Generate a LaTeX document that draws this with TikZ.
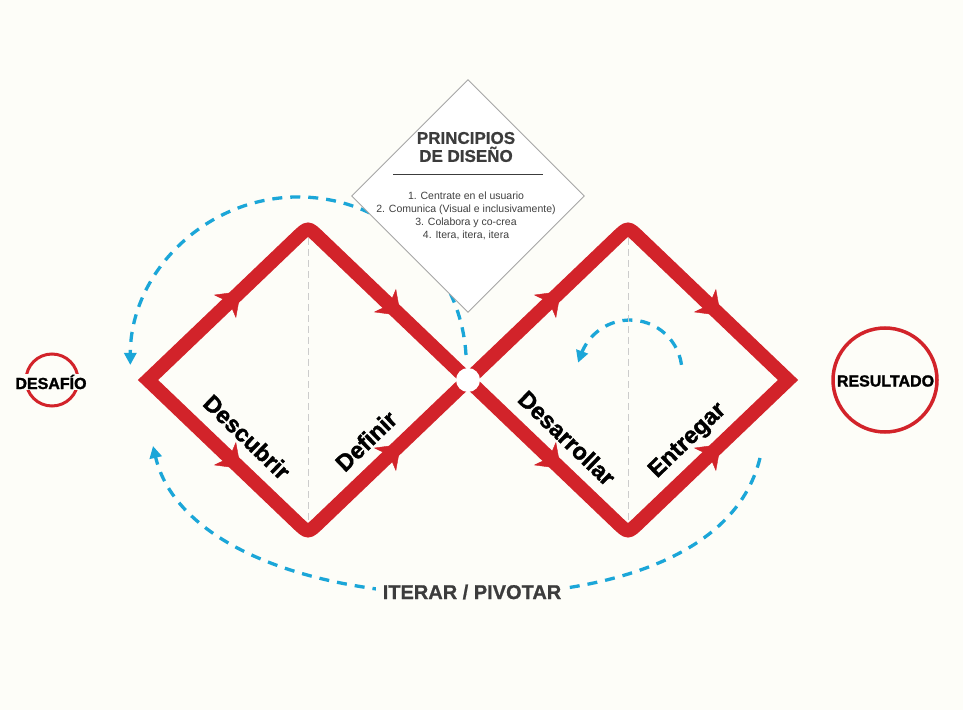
\documentclass[tikz,border=0pt]{standalone}
\usepackage{fontspec}
\setmainfont{Liberation Sans}
\newfontfamily\heavyfont[BoldFeatures={FakeBold=1.6}]{Liberation Sans}
\newfontfamily\semifont[BoldFeatures={FakeBold=0.8}]{Liberation Sans}
\usetikzlibrary{arrows.meta,calc,decorations.markings,shapes.geometric}
\definecolor{dtred}{RGB}{210,35,42}
\definecolor{dtblue}{RGB}{27,166,216}
\definecolor{dtgray}{RGB}{60,60,60}
\definecolor{dtbg}{RGB}{253,253,248}
\tikzset{
  redpath/.style={draw=dtred, line width=14pt, line join=miter},
  midarrow/.style={color=dtred, decoration={markings,
      mark=at position #1 with {\arrow{Stealth[length=22pt,width=32pt,inset=6pt]}}},
    postaction={decorate}},
  loopline/.style={draw=dtblue, line width=3.3pt, dash pattern=on 10pt off 8pt,
    -{Triangle[length=12pt,width=12pt]}},
  axisline/.style={draw=black!20, line width=0.8pt, dash pattern=on 7pt off 4pt},
  phase/.style={font=\heavyfont\bfseries\fontsize{23.5}{23.5}\selectfont, text=black, inner sep=0pt},
  endlabel/.style={font=\heavyfont\bfseries\fontsize{16}{16}\selectfont, text=black, fill=dtbg, inner sep=1pt},
  ring/.style={circle, draw=dtred, inner sep=0pt},
}
\begin{document}
\begin{tikzpicture}[x=1pt,y=1pt]
  \fill[dtbg] (0,0) rectangle (963,710);
  \useasboundingbox (0,0) rectangle (963,710);
  % diamond corners
  \coordinate (L1) at (148,330);
  \coordinate (T1) at (308,483);
  \coordinate (B1) at (308,177);
  \coordinate (R1) at (468,330);
  \coordinate (L2) at (468,330);
  \coordinate (T2) at (628,483);
  \coordinate (B2) at (628,177);
  \coordinate (R2) at (788,330);
  % iteration loops
  \draw[loopline] (466,355) arc[start angle=3.4, end angle=180, radius=168];
  \draw[loopline] (681.5,345.2) arc[start angle=8, end angle=160, radius=52] -- ++(250:9);
  \draw[loopline] (760,252) .. controls (735,150) and (600,115) .. (470,115)
    .. controls (300,115) and (175,170) .. (153,264);
  \node[fill=dtbg, text=dtgray, font=\semifont\bfseries\fontsize{20}{20}\selectfont,
    inner xsep=7pt] (iterar) at (472,118) {ITERAR / PIVOTAR};
  % axes
  \draw[axisline] (T1) -- (B1);
  \draw[axisline] (T2) -- (B2);
  % double diamond
  \foreach \n in {1,2}{
    \draw[redpath] (L\n) -- ($(T\n)!15pt!(L\n)$) .. controls (T\n) .. ($(T\n)!15pt!(R\n)$)
      -- (R\n) -- ($(B\n)!15pt!(R\n)$) .. controls (B\n) .. ($(B\n)!15pt!(L\n)$) -- cycle;
  }
  \foreach \a/\b in {L1/T1,T1/R1,L1/B1,B1/R1,L2/T2,T2/R2,L2/B2,B2/R2}
    \path[midarrow=0.58] (\a) -- (\b);
  \fill[white] (R1) circle (12);
  % principles
  \node[diamond, draw=black!35, fill=white, line width=0.9pt, inner sep=0pt,
    minimum width=233pt, minimum height=233pt] (principios) at (468,514) {};
  \node[align=center, text=dtgray, font=\semifont\bfseries\fontsize{17}{18}\selectfont]
    (titulo) at (466,563) {PRINCIPIOS\\DE DISEÑO};
  \draw[dtgray, line width=0.9pt] (393,536) -- (543,536);
  \node[align=center, text=black!75, font=\fontsize{10.5}{13}\selectfont]
    (lista) at (466,494.5) {1. Centrate en el usuario\\2. Comunica (Visual e inclusivamente)\\3. Colabora y co-crea\\4. Itera, itera, itera};
  % phases
  \node[phase, rotate=-44] (descubrir) at (247,273) {Descubrir};
  \node[phase, rotate=44] (definir) at (366,269) {Definir};
  \node[phase, rotate=-44] (desarrollar) at (567,272) {Desarrollar};
  \node[phase, rotate=44] (entregar) at (688,269) {Entregar};
  % ends
  \node[ring, line width=3pt, minimum size=52pt] (desafioring) at (52,330) {};
  \node[endlabel] (desafio) at (51,328) {DESAFÍO};
  \node[ring, line width=3.5pt, minimum size=104pt] (resultadoring) at (885,330) {};
  \node[endlabel, fill=none] (resultado) at (885.5,329) {RESULTADO};
\end{tikzpicture}
\end{document}
